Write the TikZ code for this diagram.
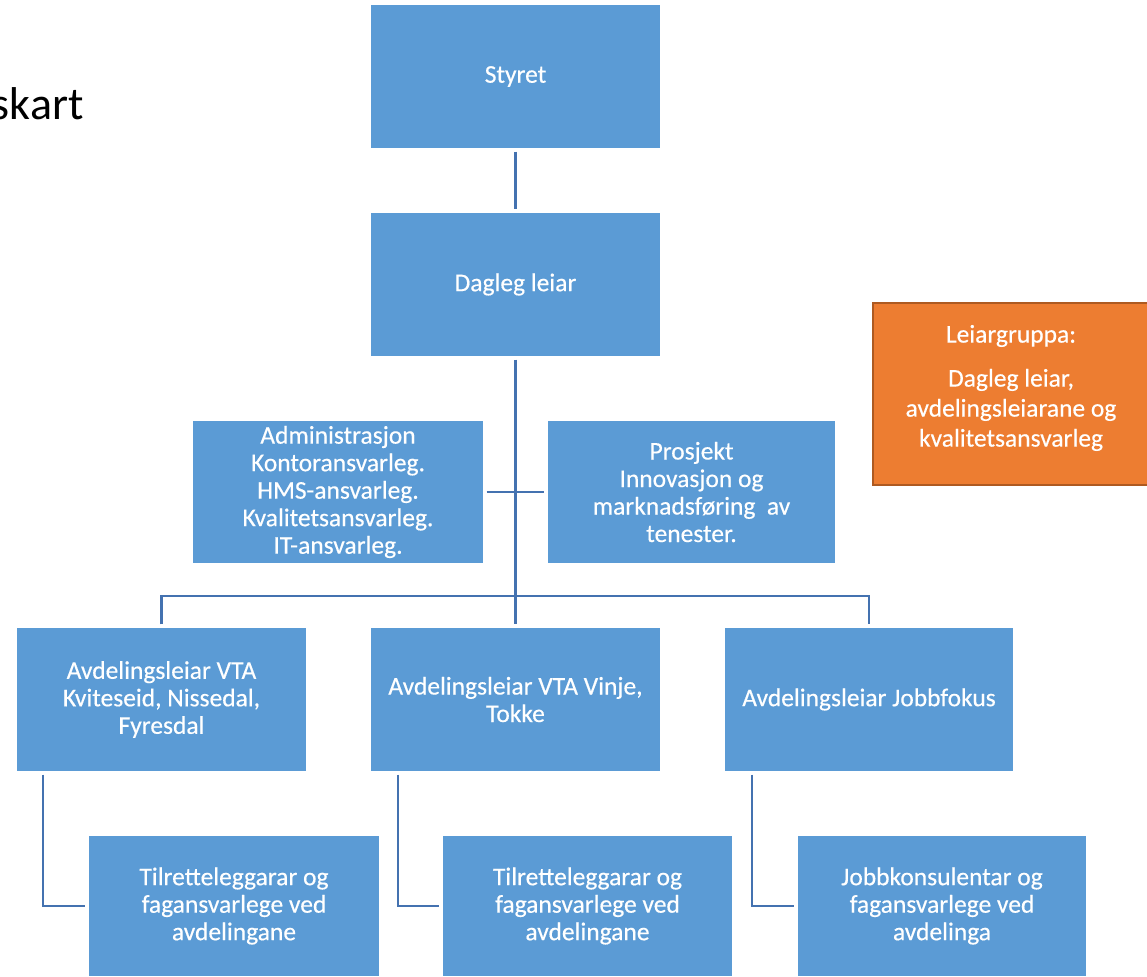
\documentclass[tikz,border=0pt]{standalone}
\usepackage{fontspec}
\setmainfont{Carlito}[FakeBold=0.4]
\newfontfamily\titlefont{Carlito}
\definecolor{boxblue}{RGB}{91,155,213}
\definecolor{lineblue}{RGB}{68,114,176}
\definecolor{orangefill}{RGB}{237,125,49}
\definecolor{orangeedge}{RGB}{174,90,33}
\begin{document}
\begin{tikzpicture}[x=1pt,y=-1pt,
  box/.style={rectangle, fill=boxblue, draw=none, text=white, align=center, inner sep=0pt,
    font=\fontsize{25.5}{27.5}\selectfont},
  wide/.style={minimum width=289pt, minimum height=143pt},
  low/.style={minimum width=289pt, minimum height=140pt},
  link/.style={draw=lineblue, line width=2.6pt, shorten <=3.5pt, shorten >=3.5pt}]
\useasboundingbox (0,0) rectangle (1147,976);
\clip (0,0) rectangle (1147,976);

\node[anchor=base east, font=\titlefont\fontsize{46}{50}\selectfont] (title) at (87,120) {skart};

\node[box, wide] (styret) at (515.5,76.5) {Styret};
\node[box, wide] (dagleg) at (515.5,284.5) {Dagleg leiar};

\node[box, minimum width=290pt, minimum height=142pt]
  (admin) at (338,492) {Administrasjon\\Kontoransvarleg.\\HMS-ansvarleg.\\Kvalitetsansvarleg.\\IT-ansvarleg.};
\node[box, minimum width=287pt, minimum height=142pt]
  (prosjekt) at (691.5,492) {Prosjekt\\Innovasjon og\\marknadsføring\ \ av\\tenester.};

\node[rectangle, fill=orangefill, draw=orangeedge, line width=1.5pt,
  minimum width=277pt, minimum height=182pt] (leiar) at (1011.5,394) {};
\node[text=white, align=center, inner sep=0pt, font=\fontsize{25.5}{30}\selectfont]
  (leiartext) at (1011,388) {Leiargruppa:\\[14pt]Dagleg leiar,\\avdelingsleiarane og\\kvalitetsansvarleg};

\node[box, wide] (avd1) at (161.5,699.5) {Avdelingsleiar VTA\\Kviteseid, Nissedal,\\Fyresdal};
\node[box, wide] (avd2) at (515.5,699.5) {Avdelingsleiar VTA Vinje,\\Tokke};
\node[box, wide, minimum width=288pt] (avd3) at (869,699.5) {Avdelingsleiar Jobbfokus};

\node[box, low, minimum width=290pt] (bot1) at (234,906) {Tilretteleggarar og\\fagansvarlege ved\\avdelingane};
\node[box, low] (bot2) at (587.5,906) {Tilretteleggarar og\\fagansvarlege ved\\avdelingane};
\node[box, low, minimum width=288pt] (bot3) at (942,906) {Jobbkonsulentar og\\fagansvarlege ved\\avdelinga};

\coordinate (bus) at (515.5,596);

\draw[link] (styret) -- (dagleg);
\draw[link] (dagleg.south) -- (avd2.north);
\draw[link] (admin) -- (prosjekt);
\draw[link] (avd1.north) |- (bus) -| (avd3.north);

\draw[link] ([xshift=26pt]avd1.south west) |- (bot1.west);
\draw[link] ([xshift=27pt]avd2.south west) |- (bot2.west);
\draw[link] ([xshift=27pt]avd3.south west) |- (bot3.west);
\end{tikzpicture}
\end{document}
